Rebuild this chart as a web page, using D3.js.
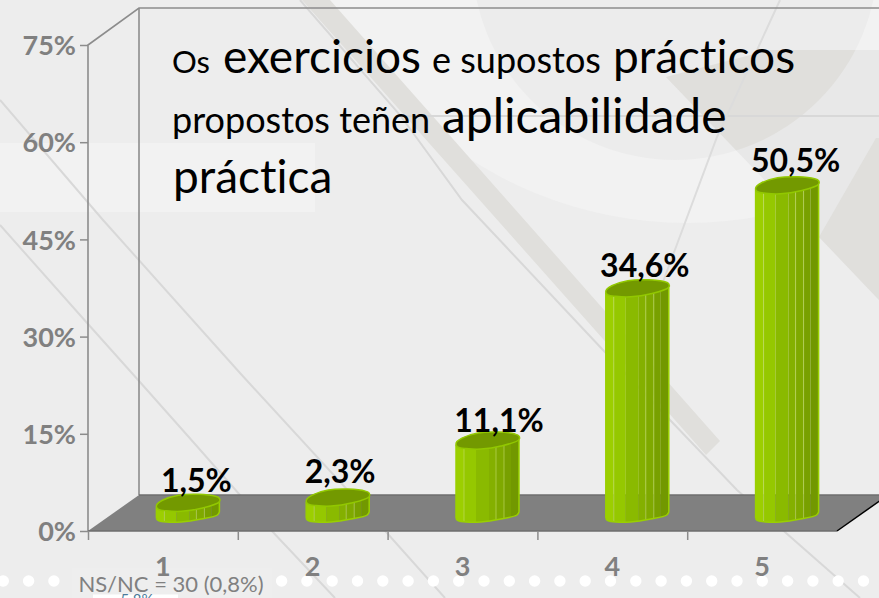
<!DOCTYPE html>
<html><head><meta charset="utf-8">
<script src="https://d3js.org/d3.v7.min.js"></script>
<style>html,body{margin:0;padding:0;background:#ededed;overflow:hidden}svg{display:block}text{font-family:Lato,"Noto Sans",sans-serif;font-variant-ligatures:none}</style>
</head><body><div id="c"></div>
<script>
const categories = ["1","2","3","4","5"];
const values = [1.5,2.3,11.1,34.6,50.5];
const valueLabels = ["1,5%","2,3%","11,1%","34,6%","50,5%"];
const yTicks = [0,15,30,45,60,75];
const titleRuns = ["Os","exercicios","e supostos","prácticos","propostos teñen","aplicabilidade","práctica"];
const footnote = "NS/NC = 30 (0,8%)";
// layout
const titleX=[172,223,432,613,172,442,173];
const titleY=[73,73,73,73,133,133,193];
const titleSize=[31,46,36,46,36,48,46];
const W=879,H=598;
const x0=88,x1=837,yBase=531,yTop=45,dx=51,dy=36;
const labelNudge=[[8,-1],[2,-5],[11,1],[7,-2],[8,-4]];
const stripes=[[0,8,"#9ccf00"],[8,20,"#95c800"],[20,33,"#8aba00"],[33,40,"#84b000"],[40,48,"#7fa900"],[48,55,"#78a000"],[55,64,"#729800"]];
const lightLines=[8,40,48];
const lozenge=[[-32,3.5],[-31,0.5],[-26,-3],[-10,-8],[10,-9],[27,-7],[31,-5],[31,-1.5],[13,5],[-7,8],[-22,7.5],[-30,6]];
const frontEdge=[[-32,4.5],[-30,6.5],[-22,8],[-7,8],[13,5],[29,1],[31,-2]];

const svg=d3.select("#c").append("svg").attr("width",W).attr("height",H);
const x=d3.scaleBand().domain(categories).range([x0,x1]);
const y=d3.scaleLinear().domain([0,75]).range([yBase,yTop]);
const xEdge=d3.scaleLinear().domain([0,5]).range([x0,x1]);
const defs=svg.append("defs");

// background
const bg=svg.append("g");
bg.append("rect").attr("width",W).attr("height",H).attr("fill","#ededed");
bg.append("circle").attr("cx",687).attr("cy",-177).attr("r",400).attr("fill","#f2f2f2");
bg.append("rect").attr("x",0).attr("y",143).attr("width",315).attr("height",69).attr("fill","#f2f2f2");
bg.append("circle").attr("cx",675).attr("cy",-43).attr("r",203).attr("fill","#ececec");
defs.append("clipPath").attr("id","inner").append("circle").attr("cx",675).attr("cy",-43).attr("r",203);
const poly=(p,c,clip)=>{const e=bg.append("polygon").attr("points",p.join(" ")).attr("fill",c);if(clip)e.attr("clip-path","url(#inner)");};
poly([[666,77],[819,237],[879,300],[879,50],[770,50]],"#e8e8e8");
poly([[666,77],[819,237],[879,300],[879,50],[770,50]],"#e0dfdc",true);
poly([[876,138],[819,237],[879,300],[879,138]],"#e0dfdc");
poly([[302,0],[330,0],[720,441],[706,455]],"#e0dfdc");
const thin=(pts,c,w)=>bg.append("path").attr("d",d3.line()(pts)).attr("fill","none").attr("stroke",c||"#d8d8d8").attr("stroke-width",w||2);
thin([[0,225],[88,324],[139,381],[187,435],[270,529],[335,598]]);
thin([[0,100],[103,220],[240,373],[387,533],[445,598]]);
thin([[300,0],[400,115],[462,200],[603,350],[737,490],[860,598]]);
thin([[400,116],[879,116]]);
thin([[780,0],[717,137],[673,255],[660,290]],"#dcdcdc");
bg.selectAll("circle.dot").data(d3.range(0,35)).join("circle").attr("class","dot")
  .attr("cx",i=>3.3+25.3*i).attr("cy",581).attr("r",5.7).attr("fill","#fff");

// note box
svg.append("rect").attr("x",72).attr("y",568).attr("width",200).attr("height",30).attr("fill","#eeeeee");
svg.append("rect").attr("x",93).attr("y",594.5).attr("width",85).attr("height",4).attr("fill","#fff");
svg.append("text").attr("x",137).attr("y",605).attr("text-anchor","middle").attr("font-size",15).attr("fill","#4a7a99").text("5,8%");

// walls and floor
const wall=svg.append("g").attr("fill","none").attr("stroke","#8c8c8c").attr("stroke-width",1.6);
wall.append("path").attr("d",d3.line()([[x0,yBase],[x0,yTop],[x0+dx,yTop-dy-1],[W,yTop-dy-1]]));
wall.append("path").attr("d",d3.line()([[x0+dx,yTop-dy-1],[x0+dx,yBase-dy]]));
svg.append("polygon").attr("points",[[x0,yBase],[x0+dx,yBase-dy],[x1+dx,yBase-dy],[x1,yBase]].join(" ")).attr("fill","#808080");
svg.append("path").attr("d",d3.line()([[x0+dx,yBase-dy],[W,yBase-dy]])).attr("stroke","#6e6e6e").attr("stroke-width",1.5);
svg.append("path").attr("d",d3.line()([[x0,yBase],[x1,yBase]])).attr("stroke","#6e6e6e").attr("stroke-width",1.5);
svg.append("path").attr("d",d3.line()([[x1,yBase],[x1+dx,yBase-dy]])).attr("stroke","#000").attr("stroke-width",1.5);

// axes
const yAxis=svg.append("g").attr("transform",`translate(${x0},0)`)
  .call(d3.axisLeft(y).tickValues(yTicks).tickFormat(d=>d+"%").tickSize(8).tickPadding(4));
yAxis.select(".domain").remove();
const xMarks=svg.append("g").attr("transform",`translate(0,${yBase})`)
  .call(d3.axisBottom(xEdge).tickValues([0,1,2,3,4]).tickSize(9).tickFormat(""));
xMarks.select(".domain").remove();
const xAxis=svg.append("g").attr("transform",`translate(0,${yBase})`)
  .call(d3.axisBottom(x).tickSize(0).tickPadding(26));
xAxis.select(".domain").remove();
svg.selectAll(".tick line").attr("stroke","#8c8c8c").attr("stroke-width",1.5);
yAxis.selectAll("text").attr("font-size",27).attr("font-weight",700).attr("fill","#808080").attr("dy","0.36em");
xAxis.selectAll("text").attr("font-size",27).attr("font-weight",700).attr("fill","#808080");

// bars
const line=d3.line();
const smooth=d3.line().curve(d3.curveCatmullRomClosed.alpha(0.5));
const smoothOpen=d3.line().curve(d3.curveCatmullRom.alpha(0.5));
const cx=c=>x(c)+x.bandwidth()/2+dx/2;
const base=yBase-dy/2;
const topY=v=>base-(yBase-y(v));
const rows=categories.map((c,i)=>({c,v:values[i],i}));
const bars=svg.selectAll("g.bar").data(rows).join("g").attr("class","bar");
bars.each(function(d){
  const g=d3.select(this),X=cx(d.c),T=topY(d.v);
  const front=frontEdge.map(([a,b])=>[X+a,base+b+1]);
  const id="clip"+d.i;
  defs.append("clipPath").attr("id",id).append("path").attr("d",
    line([[X-32,T+4.5],[X+31,T-1]])+smoothOpen(front.slice().reverse()).replace(/^M/,"L")+"Z");
  const s=g.append("g").attr("clip-path",`url(#${id})`);
  s.selectAll("rect").data(stripes).join("rect")
    .attr("x",r=>X-32+r[0]).attr("width",r=>r[1]-r[0]).attr("y",T-10).attr("height",base-T+22).attr("fill",r=>r[2]);
  s.selectAll("line").data(lightLines).join("line")
    .attr("x1",l=>X-32+l).attr("x2",l=>X-32+l).attr("y1",T-10).attr("y2",base+12)
    .attr("stroke","#c4dd6a").attr("stroke-width",1).attr("stroke-opacity",.6);
  g.append("path").attr("d",smoothOpen(front))
   .attr("fill","none").attr("stroke","#9ad000").attr("stroke-width",1.5);
  g.append("path").attr("d",line([[X-32,T+4],[X-32,base+5.5]])).attr("stroke","#9ad000").attr("stroke-width",1.5);
  g.append("path").attr("d",line([[X+31,T-1],[X+31,base-1]])).attr("stroke","#9ad000").attr("stroke-width",1.5);
  g.append("path").attr("d",smooth(lozenge.map(([a,b])=>[X+a,T+b])))
   .attr("fill","#739900").attr("stroke","#92c800").attr("stroke-width",1.5);
});
svg.selectAll("text.val").data(rows).join("text").attr("class","val")
  .attr("x",d=>cx(d.c)+labelNudge[d.i][0]).attr("y",d=>y(d.v)-28+labelNudge[d.i][1])
  .attr("text-anchor","middle").attr("font-size",32).attr("font-weight",700).attr("fill","#000")
  .text(d=>valueLabels[d.i]);

// title
svg.selectAll("text.title").data(titleRuns).join("text").attr("class","title")
  .attr("x",(d,i)=>titleX[i]).attr("y",(d,i)=>titleY[i]).attr("font-size",(d,i)=>titleSize[i]).attr("fill","#000").text(d=>d);
svg.append("text").attr("x",171).attr("y",592).attr("text-anchor","middle").attr("font-size",22).attr("fill","#808080").text(footnote);
xAxis.raise();
</script></body></html>
